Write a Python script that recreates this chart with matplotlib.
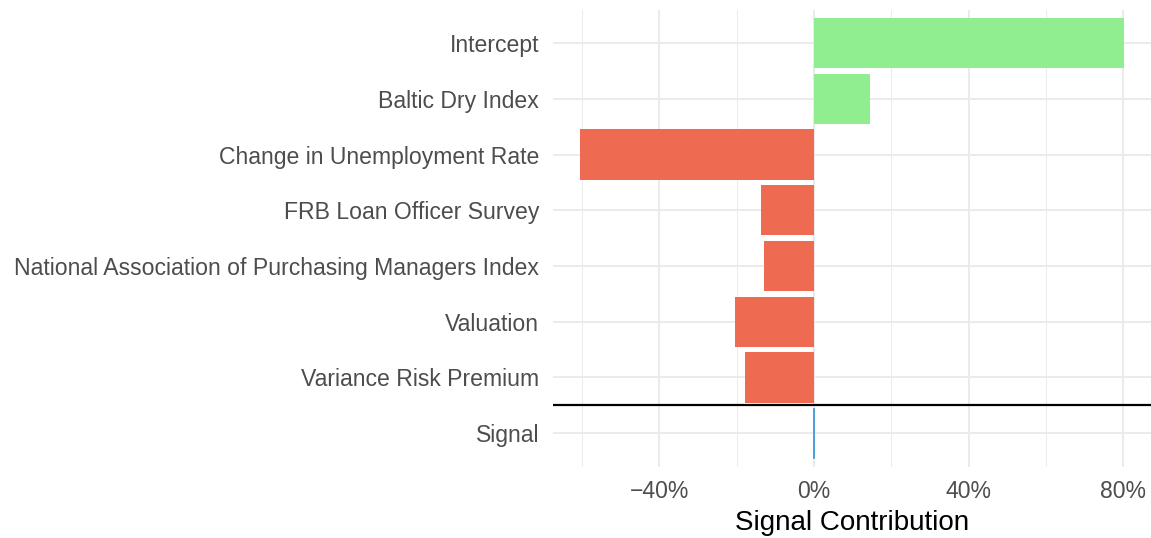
import matplotlib
matplotlib.use("Agg")
import matplotlib.pyplot as plt
from matplotlib.ticker import FixedLocator, FuncFormatter

categories = [
    "Intercept",
    "Baltic Dry Index",
    "Change in Unemployment Rate",
    "FRB Loan Officer Survey",
    "National Association of Purchasing Managers Index",
    "Valuation",
    "Variance Risk Premium",
    "Signal",
]
contributions = [80.1, 14.6, -60.4, -13.6, -13.0, -20.5, -17.7, -0.2]
bar_colors = ["#90EE90", "#90EE90", "#EE6A50", "#EE6A50", "#EE6A50",
              "#EE6A50", "#EE6A50", "#1F8DD6"]
major_ticks = [-40, 0, 40, 80]
minor_ticks = [-60, -20, 20, 60]
x_title = "Signal Contribution"

plt.rcParams["font.family"] = ["Liberation Sans", "DejaVu Sans"]

fig = plt.figure(figsize=(11.51, 5.38), dpi=100)
ax = fig.add_axes([553 / 1151, 71.4 / 538, 598 / 1151, (466.6 - 9.6) / 538])

pos = list(range(len(categories)))
ax.barh(pos[:-1], contributions[:-1], height=0.9, color=bar_colors[:-1], zorder=3)
# Signal bar: very thin
ax.barh(pos[-1:], contributions[-1:], height=0.9, color=bar_colors[-1],
        edgecolor=bar_colors[-1], linewidth=0.4, zorder=3)

ax.axhline(len(categories) - 1.5, color="black", linewidth=1.6, zorder=4)

lo, hi = min(contributions), max(contributions)
pad = (hi - lo) * 0.05
ax.set_xlim(lo - pad, hi + pad)
ax.set_ylim(len(categories) - 1 + 0.6, -0.6)

ax.set_yticks(pos)
ax.set_yticklabels(categories)
ax.xaxis.set_major_locator(FixedLocator(major_ticks))
ax.xaxis.set_minor_locator(FixedLocator(minor_ticks))
ax.xaxis.set_major_formatter(FuncFormatter(lambda v, p: f"{v:.0f}%".replace("-", "\u2212")))

ax.grid(True, which="major", axis="both", color="#EBEBEB", linewidth=1.4, zorder=0)
ax.grid(True, which="minor", axis="x", color="#EBEBEB", linewidth=0.7, zorder=0)
ax.set_axisbelow(True)

for s in ax.spines.values():
    s.set_visible(False)
ax.tick_params(axis="both", which="both", length=0)
ax.tick_params(axis="y", labelsize=16.6, labelcolor="#4D4D4D", pad=10)
ax.tick_params(axis="x", labelsize=16.6, labelcolor="#4D4D4D", pad=10)

ax.set_xlabel(x_title, fontsize=20, color="black", labelpad=5)

fig.savefig("out.png", dpi=100, facecolor="white")
